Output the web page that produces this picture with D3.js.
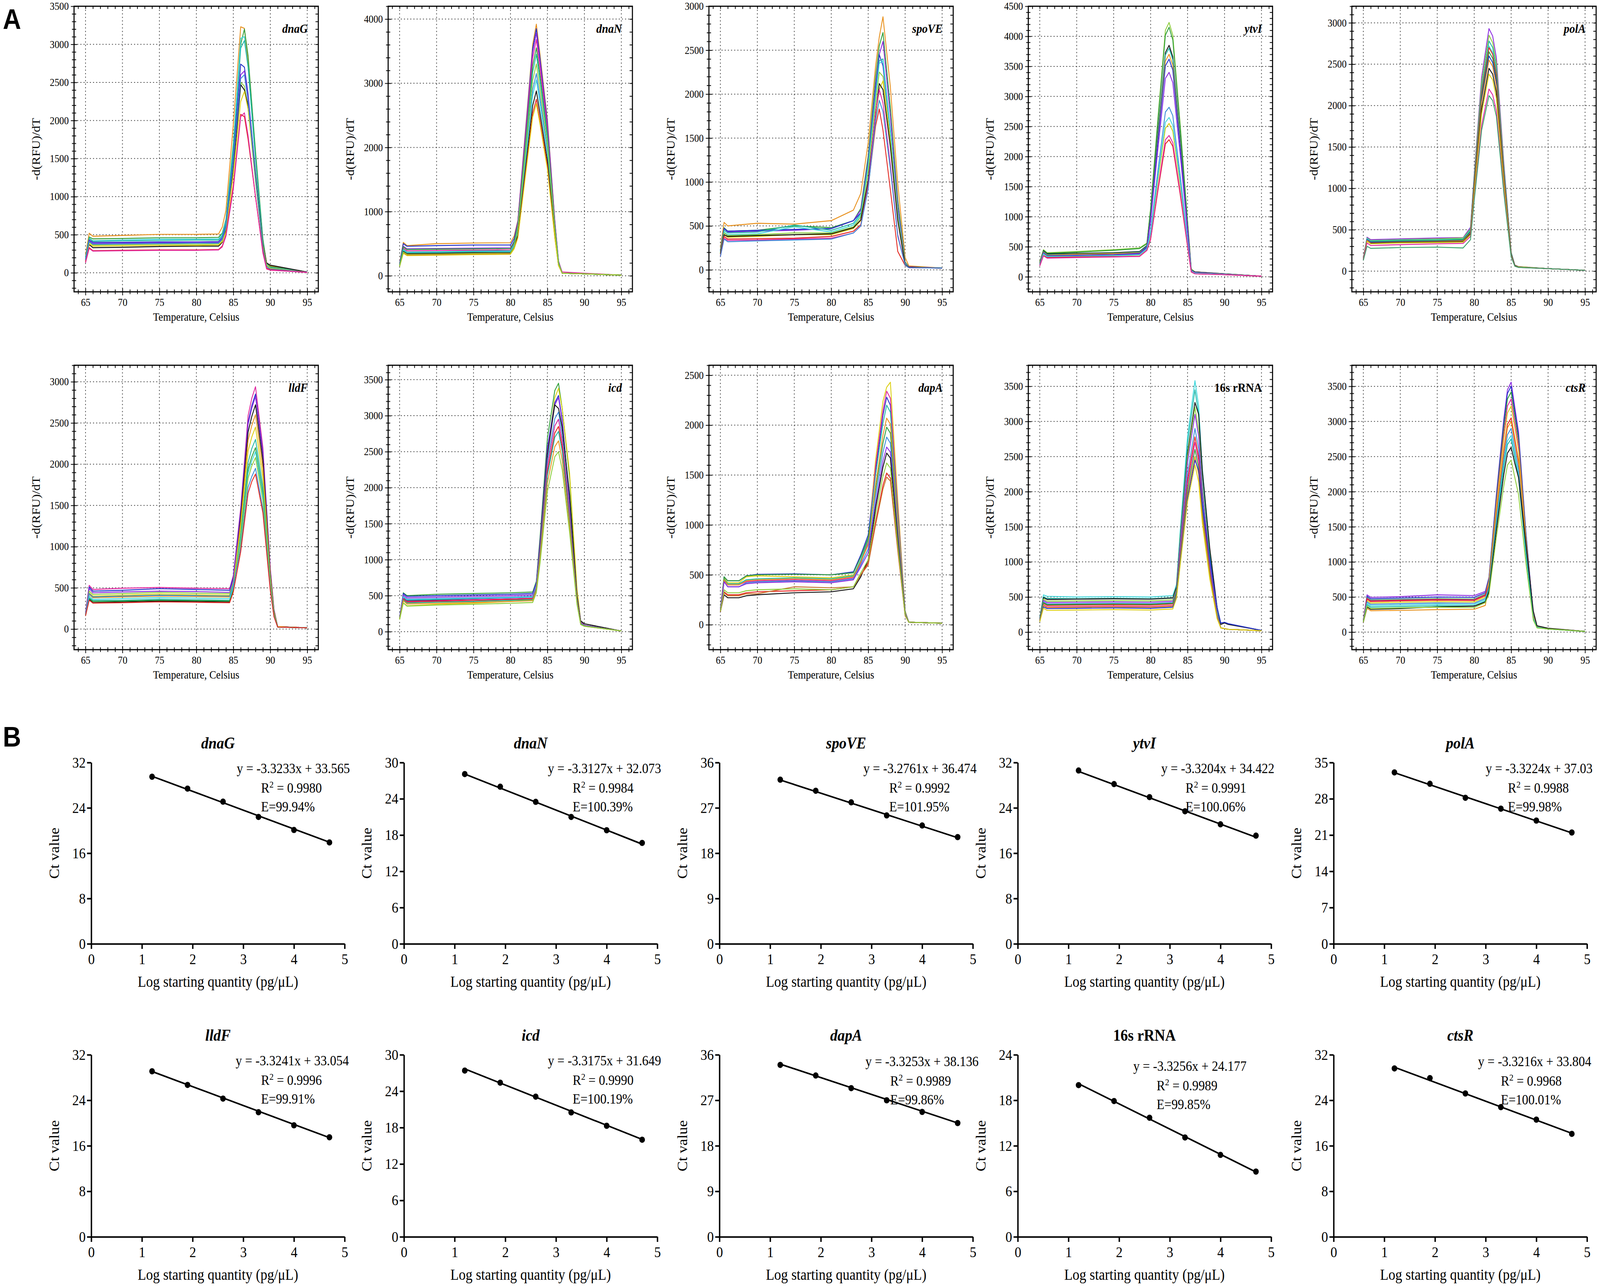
<!DOCTYPE html>
<html>
<head>
<meta charset="utf-8">
<script src="https://cdn.jsdelivr.net/npm/d3@7"></script>
<style>
  html, body { margin: 0; padding: 0; width: 100%; height: 100%; overflow: hidden; background: #fff; }
  svg { display: block; width: 100vw; height: 100vh; }
  text { font-family: "Liberation Serif", "Times New Roman", serif; fill: #000; }
</style>
</head>
<body>
<svg id="fig"></svg>
<script>
// ---------- panel A : melt curves ----------
const meltGenes = ['dnaG', 'dnaN', 'spoVE', 'ytvI', 'polA', 'lldF', 'icd', 'dapA', '16s rRNA', 'ctsR'];
const meltYMax = [3500, 4200, 3000, 4500, 3200, 3200, 3700, 2600, 3800, 3800];
const meltYStep = [500, 1000, 500, 500, 500, 500, 500, 500, 500, 500];
const tempTicks = [65, 70, 75, 80, 85, 90, 95];

const meltTemps = [
    [65, 65.5, 66, 70, 75, 80, 83, 83.5, 84, 85, 86, 86.5, 87, 88, 89, 89.5, 90, 95],
    [65, 65.5, 66, 70, 75, 80, 80.5, 81, 82, 83, 83.5, 84, 85, 86, 86.5, 87, 90, 95],
    [65, 65.5, 66, 70, 75, 80, 83, 84, 85, 86, 86.5, 87, 88, 89, 90, 90.5, 95],
    [65, 65.5, 66, 70, 75, 78.5, 79.5, 80, 81, 82, 82.5, 83, 84, 85, 85.5, 86, 90, 95],
    [65, 65.5, 66, 70, 75, 78.5, 79.5, 80, 81, 82, 82.5, 83, 84, 85, 85.5, 86, 90, 95],
    [65, 65.5, 66, 70, 75, 80, 84.5, 85, 86, 87, 87.5, 88, 89, 90, 90.5, 91, 95],
    [65, 65.5, 66, 70, 75, 80, 83, 83.5, 84, 85, 86, 86.5, 87, 88, 89, 89.5, 90, 95],
    [65, 65.5, 66, 67.5, 68.5, 70, 75, 80, 83, 84, 85, 86, 87, 87.5, 88, 89, 90, 90.5, 95],
    [65, 65.5, 66, 70, 75, 80, 83, 83.5, 84, 85, 86, 86.5, 87, 88, 89, 89.5, 90, 90.5, 95],
    [65, 65.5, 66, 70, 75, 80, 81.5, 82, 83, 84, 84.5, 85, 85.5, 86, 87, 88, 88.5, 90, 95]
];

const meltCurves = [
    [ // dnaG
        [230, 520, 480, 490, 505, 505, 510, 600, 820, 1950, 3230, 3210, 2750, 1550, 420, 130, 90, 10],
        [200, 470, 445, 450, 460, 460, 465, 520, 700, 1700, 3000, 3200, 2850, 1600, 450, 120, 80, 10],
        [190, 455, 420, 430, 440, 440, 445, 500, 680, 1650, 3080, 3100, 2700, 1500, 420, 110, 70, 10],
        [180, 450, 415, 420, 425, 430, 430, 480, 650, 1600, 2950, 3050, 2700, 1500, 400, 100, 70, 10],
        [170, 430, 400, 400, 405, 405, 410, 460, 620, 1500, 2740, 2700, 2350, 1300, 350, 90, 60, 10],
        [160, 420, 385, 390, 395, 400, 400, 450, 600, 1450, 2600, 2650, 2300, 1250, 330, 80, 50, 10],
        [160, 400, 365, 370, 375, 375, 380, 430, 580, 1400, 2500, 2450, 2150, 1200, 320, 80, 50, 8],
        [150, 370, 330, 335, 345, 350, 350, 400, 560, 1350, 2470, 2400, 2200, 1300, 380, 130, 100, 10],
        [150, 380, 350, 355, 360, 360, 365, 410, 540, 1300, 2250, 2380, 2150, 1250, 360, 100, 60, 8],
        [165, 410, 375, 380, 385, 390, 390, 440, 600, 1450, 2550, 2600, 2250, 1250, 330, 80, 50, 8],
        [140, 330, 290, 295, 300, 300, 305, 350, 500, 1150, 2080, 2050, 1750, 1000, 280, 60, 40, 5],
        [130, 320, 285, 290, 295, 295, 300, 340, 480, 1100, 2050, 2100, 1800, 1000, 260, 50, 35, 5]
    ],
    [ // dnaN
        [200, 520, 470, 500, 510, 515, 620, 860, 2230, 3600, 3920, 3450, 2430, 860, 230, 40, 30, 10],
        [190, 500, 460, 470, 480, 480, 580, 850, 2190, 3540, 3850, 3390, 2390, 850, 230, 40, 30, 10],
        [180, 460, 420, 425, 430, 435, 540, 830, 2150, 3480, 3780, 3330, 2340, 830, 220, 40, 30, 10],
        [170, 430, 390, 395, 400, 405, 510, 810, 2100, 3390, 3680, 3240, 2280, 810, 220, 60, 40, 10],
        [175, 450, 410, 415, 420, 425, 530, 780, 2020, 3270, 3550, 3120, 2200, 780, 210, 40, 30, 10],
        [165, 410, 370, 375, 385, 390, 490, 760, 1970, 3170, 3450, 3040, 2140, 760, 200, 40, 30, 10],
        [160, 390, 355, 360, 365, 370, 460, 690, 1800, 2900, 3150, 2770, 1950, 690, 190, 40, 30, 10],
        [160, 400, 360, 365, 375, 380, 470, 670, 1740, 2810, 3050, 2680, 1890, 670, 180, 40, 30, 10],
        [150, 380, 345, 350, 360, 360, 450, 630, 1640, 2650, 2880, 2530, 1790, 630, 170, 40, 30, 10],
        [150, 360, 325, 330, 340, 345, 430, 600, 1570, 2530, 2750, 2420, 1710, 600, 160, 40, 30, 10],
        [145, 350, 315, 320, 330, 335, 420, 590, 1530, 2470, 2680, 2360, 1660, 590, 160, 40, 30, 10],
        [150, 370, 335, 340, 350, 355, 450, 730, 1880, 3040, 3300, 2900, 2050, 730, 190, 40, 30, 10]
    ],
    [ // spoVE
        [250, 540, 500, 530, 520, 560, 680, 870, 1450, 2320, 2650, 2880, 2080, 980, 140, 45, 20],
        [220, 480, 440, 450, 500, 480, 560, 700, 1300, 2200, 2550, 2700, 1850, 800, 90, 35, 20],
        [210, 470, 430, 440, 450, 470, 560, 680, 1250, 2100, 2450, 2600, 1750, 720, 80, 35, 20],
        [210, 470, 440, 450, 460, 470, 560, 650, 1220, 2040, 2450, 2320, 1570, 630, 70, 30, 20],
        [200, 450, 420, 430, 510, 450, 530, 640, 1200, 2000, 2380, 2400, 1600, 650, 75, 30, 20],
        [190, 430, 400, 410, 490, 430, 510, 620, 1180, 1980, 2350, 2380, 1580, 640, 70, 30, 20],
        [190, 420, 390, 400, 420, 420, 490, 600, 1120, 1900, 2250, 2200, 1480, 600, 65, 30, 20],
        [180, 400, 370, 380, 400, 400, 470, 560, 1000, 1750, 2050, 2150, 1450, 580, 60, 30, 20],
        [180, 400, 380, 390, 400, 410, 480, 570, 1020, 1780, 2120, 2050, 1400, 560, 60, 30, 20],
        [160, 380, 350, 355, 360, 380, 440, 515, 940, 1640, 1830, 1590, 910, 210, 50, 25, 20],
        [150, 360, 335, 340, 350, 360, 420, 500, 960, 1800, 2050, 1900, 1200, 400, 55, 25, 20],
        [150, 350, 320, 330, 340, 350, 420, 500, 920, 1700, 1930, 1800, 1150, 380, 55, 25, 20]
    ],
    [ // ytvI
        [250, 450, 400, 420, 450, 480, 560, 1140, 2660, 4100, 4230, 4020, 2540, 930, 130, 80, 50, 10],
        [240, 440, 390, 410, 440, 470, 550, 1120, 2610, 4020, 4150, 3940, 2490, 910, 120, 80, 50, 10],
        [230, 430, 380, 390, 400, 420, 520, 1040, 2430, 3730, 3850, 3660, 2310, 850, 110, 80, 50, 10],
        [220, 420, 370, 380, 390, 410, 510, 1030, 2390, 3690, 3800, 3610, 2280, 840, 110, 70, 45, 10],
        [220, 410, 360, 375, 385, 400, 500, 1000, 2330, 3590, 3700, 3520, 2220, 810, 100, 70, 45, 10],
        [210, 400, 350, 360, 370, 390, 500, 980, 2280, 3510, 3620, 3440, 2170, 800, 100, 70, 45, 10],
        [200, 390, 340, 350, 360, 380, 480, 920, 2140, 3300, 3400, 3230, 2040, 750, 100, 70, 45, 10],
        [200, 380, 340, 345, 355, 370, 470, 760, 1780, 2740, 2820, 2680, 1690, 620, 90, 60, 40, 10],
        [190, 370, 330, 340, 350, 360, 460, 690, 1610, 2470, 2550, 2420, 1530, 560, 90, 60, 40, 10],
        [190, 380, 335, 340, 350, 365, 465, 720, 1670, 2570, 2650, 2520, 1590, 580, 90, 60, 40, 10],
        [180, 350, 320, 330, 335, 340, 440, 620, 1440, 2210, 2280, 2170, 1370, 500, 80, 50, 35, 10],
        [180, 350, 310, 320, 330, 340, 440, 630, 1480, 2280, 2350, 2230, 1410, 520, 80, 50, 35, 10]
    ],
    [ // polA
        [160, 410, 380, 390, 400, 405, 530, 1170, 2340, 2930, 2840, 2580, 1320, 230, 70, 55, 30, 10],
        [160, 400, 370, 380, 390, 400, 510, 1140, 2280, 2850, 2760, 2510, 1280, 230, 70, 55, 30, 10],
        [155, 395, 365, 375, 380, 390, 500, 1110, 2220, 2780, 2700, 2450, 1250, 220, 70, 50, 30, 10],
        [150, 390, 360, 370, 375, 385, 490, 1090, 2180, 2720, 2640, 2390, 1220, 220, 70, 50, 30, 10],
        [150, 380, 350, 360, 365, 375, 480, 1080, 2160, 2700, 2620, 2380, 1210, 210, 70, 50, 30, 10],
        [150, 380, 355, 365, 370, 380, 480, 1060, 2120, 2650, 2570, 2330, 1190, 210, 65, 50, 30, 10],
        [150, 380, 350, 355, 360, 370, 470, 1040, 2080, 2600, 2520, 2290, 1170, 210, 65, 50, 30, 10],
        [145, 370, 340, 350, 355, 365, 460, 1020, 2040, 2550, 2470, 2240, 1150, 200, 65, 50, 30, 10],
        [140, 360, 335, 345, 350, 355, 450, 980, 1960, 2450, 2380, 2160, 1100, 200, 65, 50, 30, 10],
        [140, 360, 330, 340, 345, 350, 440, 950, 1900, 2380, 2310, 2090, 1070, 190, 60, 50, 30, 10],
        [140, 340, 310, 320, 330, 335, 420, 880, 1760, 2200, 2130, 1940, 990, 180, 60, 45, 30, 10],
        [130, 300, 275, 285, 290, 280, 380, 850, 1700, 2120, 2060, 1870, 950, 170, 60, 45, 30, 10]
    ],
    [ // lldF
        [200, 530, 480, 495, 505, 495, 490, 650, 1470, 2590, 2800, 2940, 2200, 735, 235, 30, 15],
        [190, 510, 460, 470, 490, 480, 470, 630, 1430, 2510, 2710, 2850, 2140, 710, 230, 30, 15],
        [185, 490, 440, 450, 460, 455, 445, 600, 1410, 2480, 2680, 2820, 2110, 700, 225, 30, 15],
        [170, 360, 320, 330, 340, 335, 330, 470, 1360, 2390, 2580, 2720, 2040, 680, 220, 30, 15],
        [175, 420, 380, 390, 400, 395, 390, 530, 1300, 2290, 2470, 2600, 1950, 650, 210, 30, 15],
        [175, 440, 400, 410, 425, 415, 410, 550, 1230, 2160, 2330, 2450, 1840, 610, 195, 30, 15],
        [165, 380, 345, 350, 360, 355, 350, 490, 1150, 2020, 2190, 2300, 1730, 575, 185, 25, 15],
        [160, 370, 335, 340, 350, 345, 340, 480, 1100, 1940, 2090, 2200, 1650, 550, 175, 25, 15],
        [165, 400, 360, 370, 380, 375, 370, 510, 1080, 1890, 2040, 2150, 1610, 540, 170, 25, 15],
        [170, 460, 420, 430, 445, 435, 430, 560, 1040, 1830, 1980, 2080, 1560, 520, 165, 25, 15],
        [170, 430, 390, 400, 410, 405, 400, 530, 980, 1720, 1850, 1950, 1460, 490, 155, 25, 15],
        [160, 350, 315, 320, 330, 325, 320, 450, 940, 1650, 1790, 1880, 1410, 470, 150, 25, 15]
    ],
    [ // icd
        [200, 540, 500, 520, 530, 540, 550, 700, 1310, 2690, 3350, 3450, 3100, 2140, 520, 130, 90, 10],
        [170, 400, 360, 380, 395, 420, 440, 600, 1200, 2500, 3250, 3380, 3100, 2200, 600, 150, 90, 10],
        [200, 530, 490, 500, 510, 520, 530, 680, 1250, 2560, 3180, 3280, 2950, 1800, 490, 130, 90, 10],
        [195, 510, 470, 480, 490, 500, 510, 660, 1240, 2530, 3150, 3250, 2920, 1790, 480, 130, 90, 10],
        [190, 470, 430, 440, 455, 470, 480, 630, 1200, 2460, 3150, 3100, 2840, 1900, 500, 150, 110, 10],
        [190, 490, 450, 460, 470, 480, 490, 640, 1160, 2380, 2960, 3050, 2750, 1680, 460, 120, 85, 10],
        [185, 480, 440, 450, 460, 470, 480, 630, 1120, 2300, 2860, 2950, 2650, 1620, 440, 120, 85, 10],
        [185, 460, 420, 430, 445, 455, 465, 610, 1120, 2300, 2860, 2950, 2650, 1620, 440, 120, 85, 10],
        [180, 450, 410, 420, 430, 445, 455, 600, 1080, 2220, 2760, 2850, 2560, 1570, 430, 110, 80, 10],
        [180, 440, 400, 410, 420, 435, 445, 590, 1060, 2170, 2700, 2780, 2500, 1530, 420, 110, 80, 10],
        [175, 430, 385, 395, 405, 420, 430, 570, 1010, 2070, 2570, 2650, 2380, 1460, 400, 100, 75, 10],
        [170, 400, 355, 370, 380, 395, 405, 540, 950, 1950, 2430, 2500, 2250, 1380, 380, 100, 75, 10]
    ],
    [ // dapA
        [150, 470, 420, 420, 480, 490, 480, 470, 500, 620, 850, 1650, 2240, 2380, 2430, 1250, 140, 25, 15],
        [160, 480, 440, 440, 490, 505, 510, 500, 530, 700, 900, 1550, 2100, 2280, 2200, 1140, 130, 25, 15],
        [150, 440, 400, 400, 430, 440, 450, 440, 470, 620, 820, 1590, 2150, 2340, 2270, 1170, 130, 25, 15],
        [150, 460, 410, 410, 450, 460, 470, 460, 490, 650, 850, 1500, 2020, 2200, 2130, 1100, 130, 25, 15],
        [160, 480, 440, 440, 490, 500, 505, 500, 520, 680, 870, 1350, 1820, 1980, 1920, 990, 120, 25, 15],
        [150, 450, 400, 400, 440, 450, 460, 450, 480, 630, 800, 1400, 1900, 2070, 2010, 1030, 120, 25, 15],
        [140, 430, 380, 380, 420, 430, 440, 430, 460, 600, 760, 1280, 1730, 1880, 1820, 940, 110, 25, 15],
        [140, 430, 380, 380, 410, 420, 430, 420, 450, 580, 720, 1210, 1640, 1780, 1730, 890, 110, 25, 15],
        [130, 300, 270, 270, 290, 300, 320, 330, 360, 480, 650, 1170, 1580, 1720, 1670, 860, 100, 25, 15],
        [130, 330, 300, 300, 320, 330, 340, 350, 380, 500, 620, 1030, 1400, 1520, 1470, 760, 90, 25, 15],
        [130, 320, 290, 290, 310, 310, 380, 370, 380, 500, 600, 1000, 1360, 1480, 1440, 740, 90, 25, 15],
        [135, 350, 320, 320, 340, 350, 360, 350, 380, 520, 650, 1100, 1490, 1620, 1570, 810, 100, 25, 15]
    ],
    [ // 16s rRNA
        [200, 530, 510, 500, 505, 500, 520, 680, 1430, 2790, 3580, 3220, 2330, 1150, 290, 60, 50, 40, 20],
        [190, 500, 480, 475, 480, 475, 490, 650, 1380, 2690, 3450, 3100, 2240, 1100, 280, 60, 50, 40, 20],
        [190, 490, 465, 470, 475, 470, 485, 640, 1300, 2550, 3270, 3100, 2300, 1200, 350, 110, 130, 110, 25],
        [180, 470, 440, 445, 450, 445, 460, 610, 1280, 2500, 3200, 2880, 2080, 1020, 260, 60, 50, 40, 20],
        [175, 450, 420, 425, 430, 425, 440, 590, 1240, 2420, 3100, 2790, 2010, 990, 250, 60, 50, 40, 20],
        [170, 430, 400, 405, 410, 405, 420, 570, 1160, 2260, 2900, 2610, 1890, 930, 230, 60, 50, 40, 20],
        [165, 410, 380, 385, 390, 385, 400, 550, 1110, 2170, 2780, 2500, 1810, 890, 220, 60, 50, 40, 20],
        [160, 390, 360, 365, 370, 365, 380, 530, 1080, 2110, 2700, 2430, 1760, 860, 220, 60, 50, 40, 20],
        [165, 420, 390, 395, 400, 395, 410, 560, 1040, 2030, 2600, 2340, 1690, 830, 210, 60, 50, 40, 20],
        [160, 380, 350, 355, 360, 355, 370, 520, 1000, 1950, 2500, 2250, 1630, 800, 200, 60, 50, 40, 20],
        [150, 360, 335, 340, 345, 340, 355, 500, 980, 1910, 2450, 2300, 1800, 1050, 350, 130, 140, 120, 25],
        [145, 340, 310, 315, 320, 315, 330, 480, 950, 1860, 2380, 2140, 1550, 760, 190, 60, 50, 40, 20]
    ],
    [ // ctsR
        [170, 530, 495, 505, 530, 520, 580, 780, 1960, 3030, 3450, 3560, 3200, 2850, 1420, 250, 80, 50, 10],
        [165, 510, 475, 485, 500, 495, 560, 770, 1930, 2980, 3400, 3500, 3150, 2800, 1400, 240, 80, 50, 10],
        [160, 490, 455, 465, 475, 470, 540, 750, 1880, 2910, 3320, 3420, 3080, 2740, 1370, 240, 80, 50, 10],
        [160, 480, 445, 455, 465, 460, 530, 730, 1830, 2820, 3220, 3320, 2990, 2660, 1330, 230, 75, 50, 10],
        [155, 450, 415, 425, 435, 430, 500, 710, 1770, 2740, 3120, 3220, 2900, 2580, 1290, 225, 75, 50, 10],
        [160, 470, 435, 445, 455, 450, 520, 670, 1680, 2590, 2960, 3050, 2750, 2440, 1220, 210, 70, 50, 10],
        [140, 340, 305, 310, 320, 325, 380, 660, 1650, 2550, 2910, 3000, 2700, 2400, 1200, 210, 70, 45, 10],
        [150, 430, 395, 405, 415, 410, 480, 640, 1600, 2470, 2810, 2900, 2610, 2320, 1160, 200, 70, 45, 10],
        [150, 410, 375, 385, 395, 390, 460, 620, 1540, 2380, 2720, 2800, 2520, 2240, 1120, 200, 70, 45, 10],
        [145, 390, 355, 365, 375, 370, 440, 610, 1510, 2340, 2670, 2750, 2480, 2200, 1100, 190, 65, 45, 10],
        [145, 360, 325, 335, 360, 370, 430, 580, 1450, 2240, 2550, 2630, 2400, 2200, 1250, 300, 90, 55, 10],
        [145, 370, 335, 345, 355, 350, 420, 540, 1350, 2080, 2380, 2450, 2200, 1960, 980, 170, 60, 45, 10]
    ]
];

// colour of each curve, as an index into the palette below
const meltColourIdx = [
    [0, 1, 5, 2, 3, 4, 10, 6, 7, 11, 8, 9],
    [0, 3, 4, 9, 1, 2, 11, 5, 6, 8, 7, 10],
    [0, 1, 4, 3, 2, 5, 10, 7, 6, 8, 9, 11],
    [10, 1, 6, 2, 0, 3, 4, 11, 7, 5, 8, 9],
    [4, 10, 2, 5, 8, 1, 3, 0, 6, 7, 9, 13],
    [9, 3, 4, 6, 0, 7, 2, 1, 5, 10, 11, 8],
    [1, 7, 3, 4, 6, 11, 5, 9, 8, 2, 0, 10],
    [7, 3, 9, 2, 1, 0, 11, 4, 6, 8, 12, 10],
    [5, 2, 6, 10, 4, 11, 8, 9, 1, 0, 3, 7],
    [4, 3, 1, 9, 7, 8, 0, 11, 5, 2, 6, 10]
];

// ---------- panel B : standard curves ----------
const qGenes = ['dnaG', 'dnaN', 'spoVE', 'ytvI', 'polA', 'lldF', 'icd', 'dapA', '16s rRNA', 'ctsR'];
const qYMax = [32, 30, 36, 32, 35, 32, 30, 36, 24, 32];
const qYStep = [8, 6, 9, 8, 7, 8, 6, 9, 6, 8];
const qXTicks = [0, 1, 2, 3, 4, 5];
const qLogQty = [1.2, 1.9, 2.6, 3.3, 4.0, 4.7];
const qCt = [
    [29.5, 27.4, 25.1, 22.4, 20.1, 17.9],
    [28.1, 26.0, 23.5, 21.0, 18.8, 16.7],
    [32.6, 30.4, 28.1, 25.5, 23.5, 21.2],
    [30.6, 28.2, 25.9, 23.4, 21.1, 19.1],
    [33.1, 30.9, 28.2, 26.1, 23.8, 21.5],
    [29.1, 26.7, 24.3, 21.9, 19.6, 17.5],
    [27.4, 25.4, 23.1, 20.5, 18.3, 16.0],
    [34.0, 31.9, 29.4, 27.0, 24.7, 22.5],
    [20.0, 17.9, 15.7, 13.1, 10.8, 8.6],
    [29.6, 27.9, 25.2, 22.8, 20.6, 18.1]
];
const qSlope = [-3.3233, -3.3127, -3.2761, -3.3204, -3.3224, -3.3241, -3.3175, -3.3253, -3.3256, -3.3216];
const qIntercept = [33.565, 32.073, 36.474, 34.422, 37.03, 33.054, 31.649, 38.136, 24.177, 33.804];
const qEquation = ['y = -3.3233x + 33.565', 'y = -3.3127x + 32.073', 'y = -3.2761x + 36.474',
    'y = -3.3204x + 34.422', 'y = -3.3224x + 37.03', 'y = -3.3241x + 33.054', 'y = -3.3175x + 31.649',
    'y = -3.3253x + 38.136', 'y = -3.3256x + 24.177', 'y = -3.3216x + 33.804'];
const qR2 = ['0.9980', '0.9984', '0.9992', '0.9991', '0.9988', '0.9996', '0.9990', '0.9989', '0.9989', '0.9968'];
const qEff = ['99.94%', '100.39%', '101.95%', '100.06%', '99.98%', '99.91%', '100.19%', '99.86%', '99.85%', '100.01%'];

// ---------- layout / style ----------
const W = 4559, H = 3297;
const palette = ['#e8901c', '#2f9e3a', '#1fb5a5', '#2230c8', '#8b2be0', '#3fd7dc', '#111111',
    '#dccf12', '#e3241c', '#e0259f', '#8ccc3a', '#3a8ad8', '#c8702a', '#3aa36a'];
const meltLeft = [211, 1106, 2020, 2930, 3852], meltWidth = 696;
const meltTop = [16, 935], meltHeight = [731, 728];
const qLeft = [260, 1151, 2050, 2900, 3800], qWidth = 722;
const qTop = [1952, 2700], qBottom = [2416, 3166];
// where the equation block sits (x in data units, first-line offset in px)
const qEqStart = [2.87, 2.84, 2.84, 2.83, 3.0, 2.85, 2.84, 2.88, 2.28, 2.85];
const qR2Start = [3.35, 3.33, 3.35, 3.31, 3.44, 3.35, 3.33, 3.37, 2.74, 3.30];
const qEqDy = [27, 27, 27, 27, 27, 27, 27, 29, 41, 29];

// the figure is stretched to fill the whole window, like the reference image
const svg = d3.select('#fig')
    .attr('viewBox', `0 0 ${W} ${H}`)
    .attr('preserveAspectRatio', 'none');

svg.append('rect').attr('width', W).attr('height', H).attr('fill', '#fff');

function styleTicks(sel, size) {
    sel.select('.domain').remove();
    sel.selectAll('.tick line').attr('stroke', '#000').attr('stroke-width', 2);
    sel.selectAll('.tick text')
        .style('font-family', '"Liberation Serif", "Times New Roman", serif')
        .style('font-size', size + 'px')
        .attr('fill', '#000');
}

meltGenes.forEach((gene, i) => {
    const col = i % 5, row = Math.floor(i / 5);
    const x0 = meltLeft[col], x1 = x0 + meltWidth;
    const y0 = meltTop[row], y1 = y0 + meltHeight[row];
    const x = d3.scaleLinear().domain([63.45, 96.5]).range([x0, x1]);
    const y = d3.scaleLinear().domain([-250, meltYMax[i]]).range([y1, y0]);
    const step = meltYStep[i];
    const major = d3.range(0, meltYMax[i] + 1, step);
    const minor = d3.range(-200, meltYMax[i] + 1, step / 5).filter(v => v % step !== 0);
    const minorT = d3.range(64, 97, 1).filter(v => v % 5 !== 0);

    const g = svg.append('g');

    g.append('clipPath').attr('id', 'clip' + i)
        .append('rect').attr('x', x0).attr('y', y0).attr('width', meltWidth).attr('height', y1 - y0);

    // dotted grid
    g.selectAll('line.gy').data(major).join('line')
        .attr('x1', x0).attr('x2', x1)
        .attr('y1', d => y(d)).attr('y2', d => y(d))
        .attr('stroke', '#444').attr('stroke-width', 2).attr('stroke-dasharray', '3,6');
    g.selectAll('line.gx').data(tempTicks).join('line')
        .attr('x1', d => x(d)).attr('x2', d => x(d))
        .attr('y1', y0).attr('y2', y1)
        .attr('stroke', '#444').attr('stroke-width', 2).attr('stroke-dasharray', '3,6');

    // curves
    const temps = meltTemps[i];
    const line = d3.line().x((d, k) => x(temps[k])).y(d => y(d));
    g.append('g').attr('clip-path', `url(#clip${i})`)
        .selectAll('path').data(meltCurves[i]).join('path')
        .attr('d', line)
        .attr('fill', 'none')
        .attr('stroke', (d, k) => palette[meltColourIdx[i][k]])
        .attr('stroke-width', 2.4)
        .attr('stroke-linejoin', 'round');

    // frame
    g.append('rect').attr('x', x0).attr('y', y0).attr('width', meltWidth).attr('height', y1 - y0)
        .attr('fill', 'none').attr('stroke', '#000').attr('stroke-width', 3);

    // left axis: labels + ticks crossing the frame
    g.append('g').attr('transform', `translate(${x0},0)`)
        .call(d3.axisLeft(y).tickValues(major).tickSize(9).tickPadding(6).tickFormat(d3.format('d')))
        .call(s => styleTicks(s, 27));
    g.append('g').attr('transform', `translate(${x0},0)`)
        .call(d3.axisLeft(y).tickValues(major).tickSize(-9).tickFormat(''))
        .call(s => styleTicks(s, 27));
    g.append('g').attr('transform', `translate(${x0},0)`)
        .call(d3.axisLeft(y).tickValues(minor).tickSize(6).tickFormat(''))
        .call(s => styleTicks(s, 27));
    g.append('g').attr('transform', `translate(${x0},0)`)
        .call(d3.axisLeft(y).tickValues(minor).tickSize(-6).tickFormat(''))
        .call(s => styleTicks(s, 27));
    // right side ticks pointing inward
    g.append('g').attr('transform', `translate(${x1},0)`)
        .call(d3.axisRight(y).tickValues(major.concat(minor)).tickSize(-8).tickFormat(''))
        .call(s => styleTicks(s, 27));

    // bottom axis
    g.append('g').attr('transform', `translate(0,${y1})`)
        .call(d3.axisBottom(x).tickValues(tempTicks).tickSize(9).tickPadding(8).tickFormat(d3.format('d')))
        .call(s => styleTicks(s, 27));
    g.append('g').attr('transform', `translate(0,${y1})`)
        .call(d3.axisBottom(x).tickValues(tempTicks).tickSize(-9).tickFormat(''))
        .call(s => styleTicks(s, 27));
    g.append('g').attr('transform', `translate(0,${y1})`)
        .call(d3.axisBottom(x).tickValues(minorT).tickSize(6).tickFormat(''))
        .call(s => styleTicks(s, 27));
    g.append('g').attr('transform', `translate(0,${y1})`)
        .call(d3.axisBottom(x).tickValues(minorT).tickSize(-6).tickFormat(''))
        .call(s => styleTicks(s, 27));
    // top ticks pointing inward
    g.append('g').attr('transform', `translate(0,${y0})`)
        .call(d3.axisTop(x).tickValues(tempTicks.concat(minorT)).tickSize(-7).tickFormat(''))
        .call(s => styleTicks(s, 27));

    // axis titles
    g.append('text')
        .attr('x', (x0 + x1) / 2).attr('y', y1 + 74)
        .attr('text-anchor', 'middle')
        .style('font-size', '29px')
        .text('Temperature, Celsius');
    g.append('text')
        .attr('transform', `translate(${x0 - 98},${(y0 + y1) / 2}) rotate(-90)`)
        .attr('text-anchor', 'middle')
        .style('font-size', '33px')
        .text('-d(RFU)/dT');

    // gene name
    g.append('text')
        .attr('x', x1 - 30).attr('y', y0 + 68)
        .attr('text-anchor', 'end')
        .style('font-size', '32px')
        .style('font-weight', 'bold')
        .style('font-style', gene === '16s rRNA' ? 'normal' : 'italic')
        .text(gene);
});

qGenes.forEach((gene, i) => {
    const col = i % 5, row = Math.floor(i / 5);
    const x0 = qLeft[col], x1 = x0 + qWidth;
    const y0 = qTop[row], y1 = qBottom[row];
    const x = d3.scaleLinear().domain([0, 5]).range([x0, x1]);
    const y = d3.scaleLinear().domain([0, qYMax[i]]).range([y1, y0]);
    const g = svg.append('g');

    const axisStyle = s => {
        s.select('.domain').attr('stroke', '#000').attr('stroke-width', 4);
        s.selectAll('.tick line').attr('stroke', '#000').attr('stroke-width', 4);
        s.selectAll('.tick text')
            .style('font-family', '"Liberation Serif", "Times New Roman", serif')
            .style('font-size', '38px')
            .attr('fill', '#000');
    };
    g.append('g').attr('transform', `translate(0,${y1})`)
        .call(d3.axisBottom(x).tickValues(qXTicks).tickFormat(d3.format('d'))
            .tickSize(13).tickSizeOuter(0).tickPadding(12))
        .call(axisStyle);
    g.append('g').attr('transform', `translate(${x0},0)`)
        .call(d3.axisLeft(y).tickValues(d3.range(0, qYMax[i] + 0.1, qYStep[i])).tickFormat(d3.format('d'))
            .tickSize(12).tickSizeOuter(0).tickPadding(4))
        .call(axisStyle);

    // fitted line from the printed equation
    const ends = [qLogQty[0], qLogQty[qLogQty.length - 1]];
    g.append('path')
        .datum(ends)
        .attr('d', d3.line().x(d => x(d)).y(d => y(qSlope[i] * d + qIntercept[i])))
        .attr('stroke', '#000').attr('stroke-width', 4).attr('fill', 'none');

    g.selectAll('circle').data(qCt[i]).join('circle')
        .attr('cx', (d, k) => x(qLogQty[k]))
        .attr('cy', d => y(d))
        .attr('r', 8)
        .attr('fill', '#000');

    // titles
    g.append('text')
        .attr('x', (x0 + x1) / 2).attr('y', y0 - 36)
        .attr('text-anchor', 'middle')
        .style('font-size', '42px')
        .style('font-weight', 'bold')
        .style('font-style', gene === '16s rRNA' ? 'normal' : 'italic')
        .text(gene);
    g.append('text')
        .attr('x', (x0 + x1) / 2).attr('y', y1 + 110)
        .attr('text-anchor', 'middle')
        .style('font-size', '39px')
        .text('Log starting quantity (pg/\u03bcL)');
    g.append('text')
        .attr('transform', `translate(${x0 - 92},${(y0 + y1) / 2}) rotate(-90)`)
        .attr('text-anchor', 'middle')
        .style('font-size', '39px')
        .text('Ct value');

    // equation block
    const eqY = y0 + qEqDy[i];
    g.append('text')
        .attr('x', x(qEqStart[i])).attr('y', eqY)
        .style('font-size', '36px')
        .text(qEquation[i]);
    const r2 = g.append('text')
        .attr('x', x(qR2Start[i])).attr('y', eqY + 50)
        .style('font-size', '36px');
    r2.append('tspan').text('R');
    r2.append('tspan').attr('dy', -13).style('font-size', '24px').text('2');
    r2.append('tspan').attr('dy', 13).text(' = ' + qR2[i]);
    g.append('text')
        .attr('x', x(qR2Start[i])).attr('y', eqY + 98)
        .style('font-size', '36px')
        .text('E=' + qEff[i]);
});

// panel letters
svg.append('text').attr('x', 8).attr('y', 74)
    .style('font-family', '"Liberation Sans", Arial, sans-serif')
    .style('font-size', '72px').style('font-weight', 'bold')
    .text('A');
svg.append('text').attr('x', 8).attr('y', 1911)
    .style('font-family', '"Liberation Sans", Arial, sans-serif')
    .style('font-size', '72px').style('font-weight', 'bold')
    .text('B');
</script>
</body>
</html>
